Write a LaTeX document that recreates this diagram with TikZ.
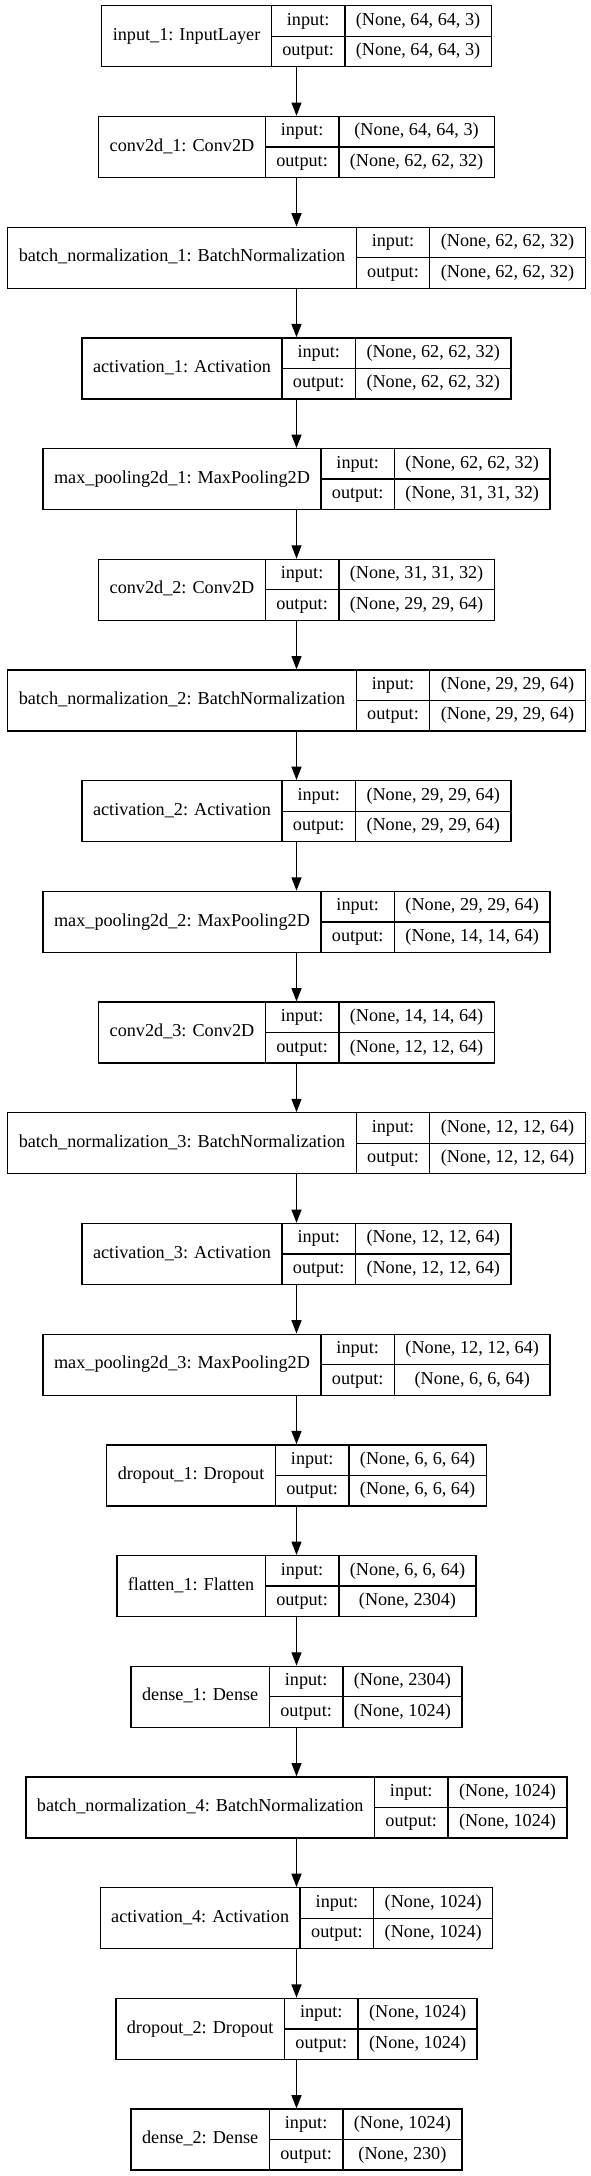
\documentclass[tikz,border=0pt]{standalone}
\usepackage{fontspec}
\setmainfont{Liberation Serif}
\usetikzlibrary{arrows.meta}
\newcommand\lyrfont{\fontsize{18.2pt}{22pt}\selectfont}
\newlength\wa \newlength\wb \newlength\wc \newlength\wtmp \newlength\wtmpb
\tikzset{
  box/.style={draw, line width=1.33pt, inner sep=0pt, minimum height=61pt},
  sep/.style={line width=1.33pt},
  txt/.style={inner sep=0pt, font=\lyrfont, text height=12.6pt, text depth=4.2pt},
  arr/.style={line width=1.33pt, -{Triangle[length=13.3pt,width=10pt]}}
}
\newcommand\layer[5]{%
  \pgfinterruptpicture
    \settowidth\wtmp{\lyrfont #3}\global\wa=\wtmp
    \settowidth\wtmp{\lyrfont output:}\global\wb=\wtmp
    \settowidth\wtmp{\lyrfont #4}\settowidth\wtmpb{\lyrfont #5}%
    \ifdim\wtmpb>\wtmp \wtmp=\wtmpb\fi
    \global\wc=\wtmp
  \endpgfinterruptpicture
  \addtolength\wa{22pt}\addtolength\wb{22pt}\addtolength\wc{22pt}%
  \pgfmathsetmacro\W{\wa+\wb+\wc}%
  \pgfmathsetmacro\Y{2176-36.3-110.7*#2}%
  \pgfmathsetmacro\Lx{296.5-\W/2}%
  \pgfmathsetmacro\Xa{\Lx+\wa}%
  \pgfmathsetmacro\Xb{\Xa+\wb}%
  \pgfmathsetmacro\Rx{296.5+\W/2}%
  \pgfmathsetmacro\Yt{\Y+30.5}%
  \pgfmathsetmacro\Yb{\Y-30.5}%
  \pgfmathsetmacro\Yu{\Y+15.25}%
  \pgfmathsetmacro\Yd{\Y-15.25}%
  \pgfmathsetmacro\Cn{(\Lx+\Xa)/2}%
  \pgfmathsetmacro\Cl{(\Xa+\Xb)/2}%
  \pgfmathsetmacro\Cs{(\Xb+\Rx)/2}%
  \node[box, minimum width=\W pt] (#1) at (296.5,\Y) {};
  \draw[sep] (\Xa,\Yt) -- (\Xa,\Yb);
  \draw[sep] (\Xb,\Yt) -- (\Xb,\Yb);
  \draw[sep] (\Xa,\Y) -- (\Rx,\Y);
  \node[txt] (#1n) at (\Cn,\Y) {#3};
  \node[txt] (#1a) at (\Cl,\Yu) {input:};
  \node[txt] (#1b) at (\Cl,\Yd) {output:};
  \node[txt] (#1c) at (\Cs,\Yu) {#4};
  \node[txt] (#1d) at (\Cs,\Yd) {#5};
}
\begin{document}
\begin{tikzpicture}[x=1pt,y=1pt]
\useasboundingbox[fill=white] (0,0) rectangle (591,2176);
\layer{l0}{0}{input\_1: InputLayer}{(None, 64, 64, 3)}{(None, 64, 64, 3)}
\layer{l1}{1}{conv2d\_1: Conv2D}{(None, 64, 64, 3)}{(None, 62, 62, 32)}
\layer{l2}{2}{batch\_normalization\_1: BatchNormalization}{(None, 62, 62, 32)}{(None, 62, 62, 32)}
\layer{l3}{3}{activation\_1: Activation}{(None, 62, 62, 32)}{(None, 62, 62, 32)}
\layer{l4}{4}{max\_pooling2d\_1: MaxPooling2D}{(None, 62, 62, 32)}{(None, 31, 31, 32)}
\layer{l5}{5}{conv2d\_2: Conv2D}{(None, 31, 31, 32)}{(None, 29, 29, 64)}
\layer{l6}{6}{batch\_normalization\_2: BatchNormalization}{(None, 29, 29, 64)}{(None, 29, 29, 64)}
\layer{l7}{7}{activation\_2: Activation}{(None, 29, 29, 64)}{(None, 29, 29, 64)}
\layer{l8}{8}{max\_pooling2d\_2: MaxPooling2D}{(None, 29, 29, 64)}{(None, 14, 14, 64)}
\layer{l9}{9}{conv2d\_3: Conv2D}{(None, 14, 14, 64)}{(None, 12, 12, 64)}
\layer{l10}{10}{batch\_normalization\_3: BatchNormalization}{(None, 12, 12, 64)}{(None, 12, 12, 64)}
\layer{l11}{11}{activation\_3: Activation}{(None, 12, 12, 64)}{(None, 12, 12, 64)}
\layer{l12}{12}{max\_pooling2d\_3: MaxPooling2D}{(None, 12, 12, 64)}{(None, 6, 6, 64)}
\layer{l13}{13}{dropout\_1: Dropout}{(None, 6, 6, 64)}{(None, 6, 6, 64)}
\layer{l14}{14}{flatten\_1: Flatten}{(None, 6, 6, 64)}{(None, 2304)}
\layer{l15}{15}{dense\_1: Dense}{(None, 2304)}{(None, 1024)}
\layer{l16}{16}{batch\_normalization\_4: BatchNormalization}{(None, 1024)}{(None, 1024)}
\layer{l17}{17}{activation\_4: Activation}{(None, 1024)}{(None, 1024)}
\layer{l18}{18}{dropout\_2: Dropout}{(None, 1024)}{(None, 1024)}
\layer{l19}{19}{dense\_2: Dense}{(None, 1024)}{(None, 230)}
\foreach \i [evaluate=\i as \j using int(\i+1)] in {0,...,18}
  \draw[arr] (l\i) -- (l\j);
\end{tikzpicture}
\end{document}
